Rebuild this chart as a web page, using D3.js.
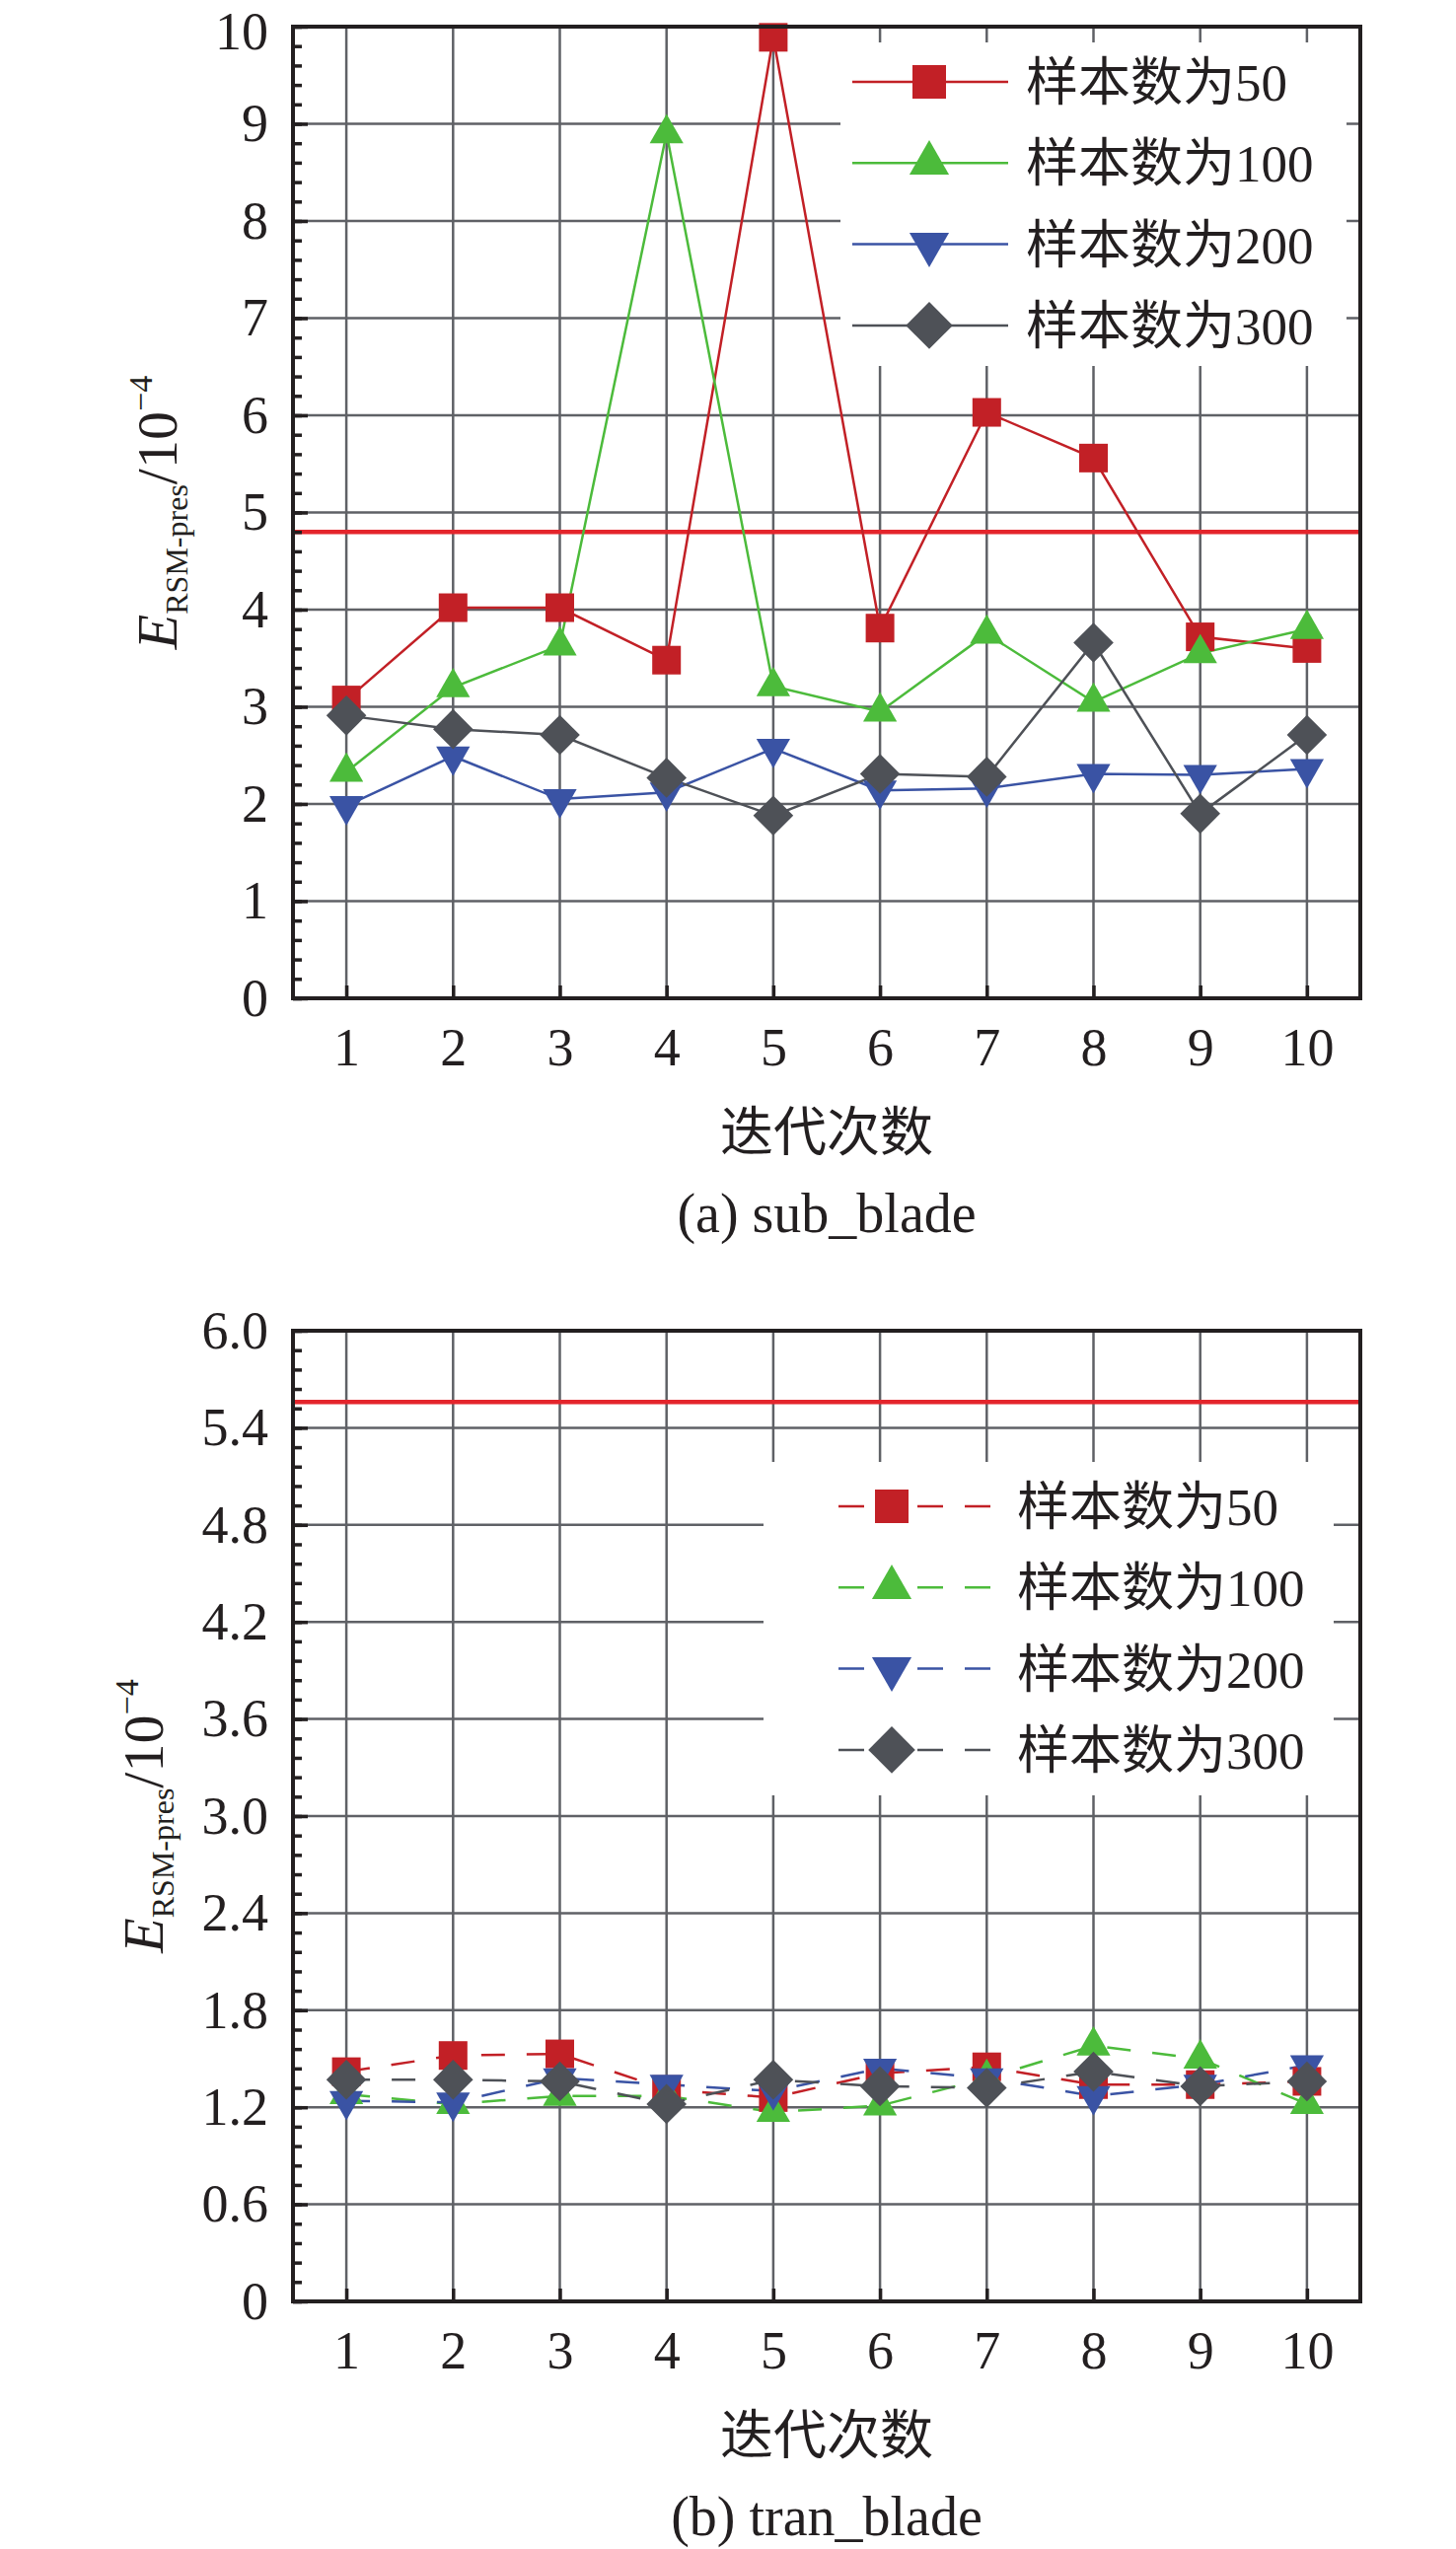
<!DOCTYPE html>
<html>
<head>
<meta charset="utf-8">
<script src="https://cdn.jsdelivr.net/npm/d3@7"></script>
<style>
  body { margin: 0; background: #fff; }
  text { font-family: "Liberation Serif", "Times New Roman", "Noto Sans CJK SC", serif; fill: #231f20; }
  .cjk { font-family: "Liberation Serif", "Noto Sans CJK SC", serif; }
</style>
</head>
<body>
<div id="chart"></div>
<script>
// iterations on the x axis
var iterations = [1, 2, 3, 4, 5, 6, 7, 8, 9, 10];
var seriesNames = ["样本数为50", "样本数为100", "样本数为200", "样本数为300"];

// (a) sub_blade
var subBlade50  = [3.07, 4.02, 4.02, 3.48, 9.89, 3.81, 6.03, 5.56, 3.72, 3.60];
var subBlade100 = [2.33, 3.20, 3.63, 8.90, 3.21, 2.95, 3.75, 3.05, 3.55, 3.80];
var subBlade200 = [1.98, 2.49, 2.05, 2.12, 2.57, 2.14, 2.16, 2.31, 2.30, 2.36];
var subBlade300 = [2.91, 2.77, 2.71, 2.27, 1.88, 2.31, 2.28, 3.66, 1.90, 2.71];
var subBladeLimit = 4.8;
var subBladeTicks = [0, 1, 2, 3, 4, 5, 6, 7, 8, 9, 10];

// (b) tran_blade
var tranBlade50  = [1.42, 1.52, 1.53, 1.31, 1.26, 1.41, 1.45, 1.34, 1.34, 1.36];
var tranBlade100 = [1.28, 1.22, 1.27, 1.27, 1.17, 1.21, 1.38, 1.58, 1.50, 1.22];
var tranBlade200 = [1.24, 1.23, 1.38, 1.34, 1.30, 1.44, 1.38, 1.27, 1.34, 1.46];
var tranBlade300 = [1.37, 1.37, 1.36, 1.22, 1.37, 1.33, 1.32, 1.42, 1.33, 1.36];
var tranBladeLimit = 5.56;
var tranBladeTicks = [0, 0.6, 1.2, 1.8, 2.4, 3.0, 3.6, 4.2, 4.8, 5.4, 6.0];

var colors = ["#c22026", "#4cbb3b", "#3a53a4", "#4e5157"];
var shapes = ["square", "up", "down", "diamond"];
var ink = "#231f20";

var svg = d3.select("#chart").append("svg")
    .attr("width", 1476)
    .attr("height", 2584);

function marker(g, shape, color, s) {
  // s is a rough size in px
  if (shape == "square") {
    g.append("rect").attr("x", -s/2).attr("y", -s/2).attr("width", s).attr("height", s).attr("fill", color);
  } else if (shape == "up") {
    var w = s*1.18, h = s*1.03;
    g.append("path").attr("d", "M0," + (-h*2/3) + "L" + (w/2) + "," + (h/3) + "L" + (-w/2) + "," + (h/3) + "Z").attr("fill", color);
  } else if (shape == "down") {
    var w = s*1.18, h = s*1.03;
    g.append("path").attr("d", "M0," + (h*2/3) + "L" + (w/2) + "," + (-h/3) + "L" + (-w/2) + "," + (-h/3) + "Z").attr("fill", color);
  } else {
    var r = s*0.7;
    g.append("path").attr("d", "M0," + (-r) + "L" + r + ",0L0," + r + "L" + (-r) + ",0Z").attr("fill", color);
  }
}

function drawPanel(p) {
  var x = d3.scaleLinear().domain([0.5, 10.5]).range([297, 1379]);
  var y = d3.scaleLinear().domain([0, p.ticks[p.ticks.length - 1]]).range([p.bottom, p.top]);
  var g = svg.append("g");

  // grid
  g.selectAll(".vg").data(iterations).enter().append("line")
      .attr("x1", d => x(d)).attr("x2", d => x(d))
      .attr("y1", p.top).attr("y2", p.bottom)
      .attr("stroke", "#5f6166").attr("stroke-width", 2.5);
  g.selectAll(".hg").data(p.ticks.slice(1, -1)).enter().append("line")
      .attr("x1", 297).attr("x2", 1379)
      .attr("y1", d => y(d)).attr("y2", d => y(d))
      .attr("stroke", "#5f6166").attr("stroke-width", 2.5);

  // legend background hides the grid
  g.append("rect")
      .attr("x", p.legend.x0).attr("y", p.legend.y0)
      .attr("width", p.legend.x1 - p.legend.x0).attr("height", p.legend.y1 - p.legend.y0)
      .attr("fill", "#fff");

  // limit line
  g.append("line")
      .attr("x1", 297).attr("x2", 1379)
      .attr("y1", y(p.limit)).attr("y2", y(p.limit))
      .attr("stroke", "#e4252c").attr("stroke-width", 4.5);

  var line = d3.line().x((d, i) => x(iterations[i])).y(d => y(d));
  p.series.forEach(function(vals, k) {
    g.append("path").datum(vals)
        .attr("d", line)
        .attr("fill", "none")
        .attr("stroke", colors[k])
        .attr("stroke-width", 2.5)
        .attr("stroke-dasharray", p.dashed ? "24,22" : null);
  });
  p.series.forEach(function(vals, k) {
    vals.forEach(function(v, i) {
      var m = g.append("g").attr("transform", "translate(" + x(iterations[i]) + "," + y(v) + ")");
      marker(m, shapes[k], colors[k], 29);
    });
  });

  // frame
  g.append("rect")
      .attr("x", 297).attr("y", p.top)
      .attr("width", 1379 - 297).attr("height", p.bottom - p.top)
      .attr("fill", "none").attr("stroke", ink).attr("stroke-width", 4);

  // left axis, major and minor ticks pointing in
  var step = p.ticks[1] - p.ticks[0];
  var minor = d3.range(0, p.ticks[p.ticks.length - 1] + 1e-9, step / 5);
  var minorAxis = g.append("g").attr("transform", "translate(297,0)")
      .call(d3.axisLeft(y).tickValues(minor).tickSize(-9).tickFormat(""));
  var leftAxis = g.append("g").attr("transform", "translate(297,0)")
      .call(d3.axisLeft(y).tickValues(p.ticks).tickSizeInner(-15).tickSizeOuter(0).tickPadding(25).tickFormat(p.fmt));
  var bottomAxis = g.append("g").attr("transform", "translate(0," + p.bottom + ")")
      .call(d3.axisBottom(x).tickValues(iterations).tickSizeInner(-13).tickSizeOuter(0).tickPadding(30).tickFormat(d3.format("d")));
  [minorAxis, leftAxis, bottomAxis].forEach(function(a) {
    a.select(".domain").remove();
    a.selectAll("line").attr("stroke", ink).attr("stroke-width", 3.5);
    a.selectAll("text").attr("font-size", 54).attr("fill", ink)
        .style("font-family", '"Liberation Serif", serif');
  });
  // the top label sits at the very edge of the page, nudge it in a little
  leftAxis.selectAll("text").filter(d => y(d) < 40).attr("dy", "0.42em");

  // axis titles
  var yt = g.append("text")
      .attr("transform", "translate(" + p.yTitleX + "," + ((p.top + p.bottom) / 2) + ") rotate(-90)")
      .attr("text-anchor", "middle").attr("font-size", 58);
  yt.append("tspan").text("E").attr("font-style", "italic");
  yt.append("tspan").text("RSM-pres").attr("font-size", 32).attr("dy", 11);
  yt.append("tspan").text("/10").attr("dy", -11);
  yt.append("tspan").text("−4").attr("font-size", 34).attr("dy", -25);

  g.append("text").attr("class", "cjk")
      .attr("x", 838).attr("y", p.bottom + 136).attr("dy", "0.35em")
      .attr("text-anchor", "middle").attr("font-size", 54)
      .text("迭代次数");
  g.append("text")
      .attr("x", 838).attr("y", p.bottom + 219).attr("dy", "0.33em")
      .attr("text-anchor", "middle").attr("font-size", 56)
      .text(p.caption);

  // legend
  seriesNames.forEach(function(name, k) {
    var ry = p.legend.row0 + k * 82.3;
    var lx0 = p.legend.lineX0, lx1 = p.legend.lineX1, mx = p.legend.markX;
    if (p.dashed) {
      g.append("line").attr("x1", lx0).attr("x2", mx).attr("y1", ry).attr("y2", ry)
          .attr("stroke", colors[k]).attr("stroke-width", 2.5).attr("stroke-dasharray", "26,22");
      g.append("line").attr("x1", lx1).attr("x2", mx).attr("y1", ry).attr("y2", ry)
          .attr("stroke", colors[k]).attr("stroke-width", 2.5).attr("stroke-dasharray", "26,22");
    } else {
      g.append("line").attr("x1", lx0).attr("x2", lx1).attr("y1", ry).attr("y2", ry)
          .attr("stroke", colors[k]).attr("stroke-width", 2.5);
    }
    var m = g.append("g").attr("transform", "translate(" + mx + "," + ry + ")");
    marker(m, shapes[k], colors[k], 34);
    g.append("text").attr("class", "cjk")
        .attr("x", p.legend.textX).attr("y", ry).attr("dy", "0.36em")
        .attr("font-size", 53)
        .text(name);
  });
}

drawPanel({
  top: 27, bottom: 1012,
  ticks: subBladeTicks, fmt: d3.format("d"),
  series: [subBlade50, subBlade100, subBlade200, subBlade300],
  limit: subBladeLimit, dashed: false,
  yTitleX: 179, caption: "(a) sub_blade",
  legend: {x0: 852, x1: 1365, y0: 43, y1: 371, row0: 83, lineX0: 864, lineX1: 1022, markX: 942, textX: 1040}
});

drawPanel({
  top: 1349, bottom: 2333,
  ticks: tranBladeTicks, fmt: d => d == 0 ? "0" : d3.format(".1f")(d),
  series: [tranBlade50, tranBlade100, tranBlade200, tranBlade300],
  limit: tranBladeLimit, dashed: true,
  yTitleX: 165, caption: "(b) tran_blade",
  legend: {x0: 774, x1: 1352, y0: 1482, y1: 1820, row0: 1527, lineX0: 850, lineX1: 1004, markX: 904, textX: 1031}
});
</script>
</body>
</html>
